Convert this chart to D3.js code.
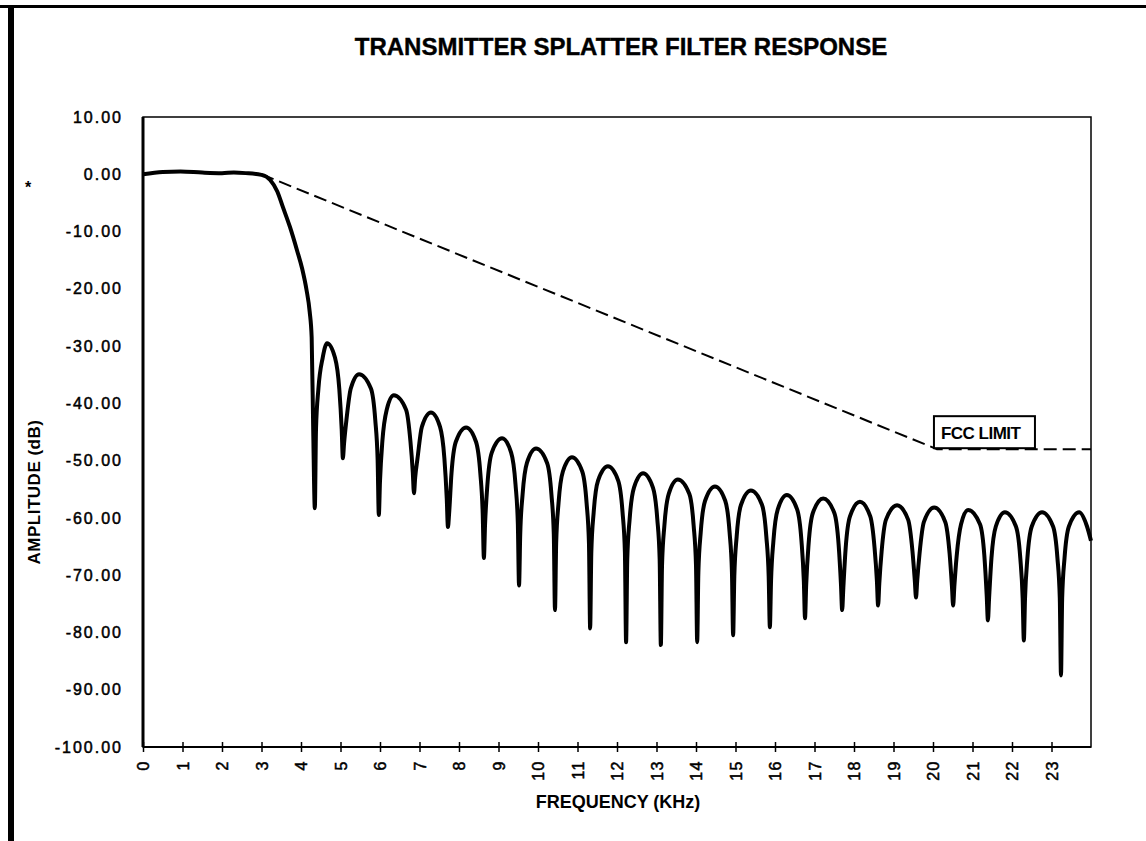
<!DOCTYPE html>
<html>
<head>
<meta charset="utf-8">
<script src="https://cdn.jsdelivr.net/npm/d3@7"></script>
<style>
  body { margin: 0; background: #fff; }
  svg { display: block; font-family: "Liberation Sans", Arial, sans-serif; }
</style>
</head>
<body>
<div id="chart"></div>
<script>
// values
const TITLE = "TRANSMITTER SPLATTER FILTER RESPONSE"
const X_TICKS = d3.range(0, 24)
const Y_TICKS = [10, 0, -10, -20, -30, -40, -50, -60, -70, -80, -90, -100]

// filter response, frequency in kHz / amplitude in dB
const FREQ = [
  0, 0.5, 0.95, 1.5, 2.0, 2.3, 2.6, 3.0, 3.22, 3.4, 3.54, 3.72, 3.9, 4.03, 4.14, 4.22, 4.27, 4.31, 4.35,
  4.38, 4.44, 4.55, 4.66, 4.86, 4.97, 5.03, 5.06,
  5.09, 5.15, 5.26, 5.47, 5.77, 5.88, 5.94, 5.97,
  6.00, 6.06, 6.17, 6.35, 6.66, 6.77, 6.83, 6.86,
  6.89, 6.95, 7.06, 7.29, 7.52, 7.63, 7.69, 7.72,
  7.75, 7.81, 7.92, 8.18, 8.43, 8.54, 8.60, 8.63,
  8.66, 8.72, 8.83, 9.09, 9.32, 9.43, 9.49, 9.52,
  9.55, 9.61, 9.72, 9.95, 10.23, 10.34, 10.40, 10.43,
  10.46, 10.52, 10.63, 10.86, 11.12, 11.23, 11.29, 11.32,
  11.35, 11.41, 11.52, 11.77, 12.03, 12.14, 12.20, 12.23,
  12.26, 12.32, 12.43, 12.66, 12.91, 13.02, 13.08, 13.11,
  13.14, 13.20, 13.31, 13.54, 13.83, 13.94, 14.00, 14.03,
  14.06, 14.12, 14.23, 14.48, 14.74, 14.85, 14.91, 14.94,
  14.97, 15.03, 15.14, 15.39, 15.67, 15.78, 15.84, 15.87,
  15.90, 15.96, 16.07, 16.30, 16.56, 16.67, 16.73, 16.76,
  16.79, 16.85, 16.96, 17.22, 17.50, 17.61, 17.67, 17.70,
  17.73, 17.79, 17.90, 18.15, 18.41, 18.52, 18.58, 18.61,
  18.64, 18.70, 18.81, 19.09, 19.37, 19.48, 19.54, 19.57,
  19.60, 19.66, 19.77, 20.03, 20.31, 20.42, 20.48, 20.51,
  20.54, 20.60, 20.71, 20.89, 21.19, 21.30, 21.36, 21.39,
  21.42, 21.48, 21.59, 21.82, 22.10, 22.21, 22.27, 22.30,
  22.33, 22.39, 22.50, 22.76, 23.04, 23.15, 23.21, 23.24,
  23.27, 23.33, 23.44, 23.70, 23.90, 24.0
]
const AMPL = [
  0, 0.4, 0.5, 0.3, 0.2, 0.3, 0.2, -0.1, -1.0, -3.0, -5.7, -9.2, -13.3, -16.5, -20.2, -24, -28.5, -45, -58.3,
  -44.5, -37.5, -32, -29.5, -32, -37.5, -44.5, -49.6,
  -47, -42.9, -37.4, -34.9, -37.4, -42.9, -49.9, -59.5,
  -53.6, -46.6, -41.1, -38.6, -41.1, -46.6, -52, -55.7,
  -53, -49.6, -44.1, -41.6, -44.1, -49.6, -56.6, -61.6,
  -59.2, -52.2, -46.7, -44.2, -46.7, -52.2, -59.2, -67,
  -61.1, -54.1, -48.6, -46.1, -48.6, -54.1, -61.1, -71.8,
  -62.9, -55.9, -50.4, -47.9, -50.4, -55.9, -62.9, -76.1,
  -64.4, -57.4, -51.9, -49.4, -51.9, -57.4, -64.4, -79.3,
  -66, -59, -53.5, -51, -53.5, -59, -66, -81.7,
  -67.2, -60.2, -54.7, -52.2, -54.7, -60.2, -67.2, -82.2,
  -68.3, -61.3, -55.8, -53.3, -55.8, -61.3, -68.3, -81.7,
  -69.5, -62.5, -57, -54.5, -57, -62.5, -69.5, -80.5,
  -70.2, -63.2, -57.7, -55.2, -57.7, -63.2, -70.2, -79.1,
  -71, -64, -58.5, -56, -58.5, -64, -71, -77.5,
  -71.6, -64.6, -59.1, -56.6, -59.1, -64.6, -71.6, -76.1,
  -72.2, -65.2, -59.7, -57.2, -59.7, -65.2, -71, -75.3,
  -71.5, -65.8, -60.3, -57.8, -60.3, -65.8, -71, -73.9,
  -71, -66.2, -60.7, -58.2, -60.7, -66.2, -72, -75.3,
  -72, -66.6, -61.1, -58.6, -61.1, -66.6, -73.6, -77.9,
  -74, -67, -61.5, -59, -61.5, -67, -74, -81.4,
  -74, -67, -61.5, -59, -61.5, -67, -74, -87.5,
  -74, -67, -61.5, -59, -61.5, -64
]

// FCC limit mask
const FCC_FREQ = [3.0, 20.1, 24.0]
const FCC_AMPL = [0, -48, -48]
const FCC_LABEL = "FCC LIMIT"

const MARGIN = {TOP: 117, BOTTOM: 94, LEFT: 143, RIGHT: 55}
const WIDTH = 1146 - MARGIN.LEFT - MARGIN.RIGHT
const HEIGHT = 841 - MARGIN.TOP - MARGIN.BOTTOM

const root = d3.select("#chart")
  .append("svg")
    .attr("width", 1146)
    .attr("height", 841)

// scanned page edges
root.append("rect").attr("x", 0).attr("y", 5).attr("width", 1146).attr("height", 3).attr("fill", "#000")
root.append("rect").attr("x", 8).attr("y", 5).attr("width", 6).attr("height", 836).attr("fill", "#000")
root.append("text").attr("x", 25).attr("y", 193).attr("font-size", 16).attr("font-weight", "bold").text("*")

root.append("text")
  .attr("x", 621)
  .attr("y", 55)
  .attr("text-anchor", "middle")
  .attr("font-size", 24)
  .attr("font-weight", "bold")
  .attr("stroke", "#000")
  .attr("stroke-width", 0.4)
  .text(TITLE)

const svg = root.append("g")
  .attr("transform", `translate(${MARGIN.LEFT}, ${MARGIN.TOP})`)

const x = d3.scaleLinear().domain([0, 24]).range([0, WIDTH])
const y = d3.scaleLinear().domain([-100, 10]).range([HEIGHT, 0])

// plot frame
svg.append("rect")
  .attr("width", WIDTH)
  .attr("height", HEIGHT)
  .attr("fill", "none")
  .attr("stroke", "#000")
  .attr("stroke-width", 1.5)
svg.append("line").attr("x1", 0).attr("x2", 0).attr("y1", 0).attr("y2", HEIGHT)
  .attr("stroke", "#000").attr("stroke-width", 3)
svg.append("line").attr("x1", 0).attr("x2", WIDTH).attr("y1", HEIGHT).attr("y2", HEIGHT)
  .attr("stroke", "#000").attr("stroke-width", 2)

// x axis, labels turned sideways
const xAxis = svg.append("g")
  .attr("transform", `translate(0, ${HEIGHT})`)
  .call(d3.axisBottom(x).tickValues(X_TICKS).tickSize(5).tickSizeOuter(0).tickFormat(d3.format("d")))
xAxis.select(".domain").remove()
xAxis.selectAll(".tick line").attr("y1", -5).attr("stroke-width", 1.5)
xAxis.selectAll(".tick text")
  .attr("transform", "rotate(-90)")
  .attr("text-anchor", "end")
  .attr("x", -13)
  .attr("y", 0)
  .attr("dy", "0.36em")
  .attr("font-size", 16)
  .attr("letter-spacing", 1.5)
  .attr("fill", "#000")
  .attr("stroke", "#000")
  .attr("stroke-width", 0.5)

const yAxis = svg.append("g")
  .call(d3.axisLeft(y).tickValues(Y_TICKS).tickSize(0).tickPadding(20).tickFormat(d => d.toFixed(2)))
yAxis.select(".domain").remove()
yAxis.selectAll(".tick text")
  .attr("font-size", 16)
  .attr("letter-spacing", 2)
  .attr("fill", "#000")
  .attr("stroke", "#000")
  .attr("stroke-width", 0.5)

root.append("text")
  .attr("x", 618)
  .attr("y", 808)
  .attr("text-anchor", "middle")
  .attr("font-size", 18)
  .attr("font-weight", "bold")
  .text("FREQUENCY (KHz)")

root.append("text")
  .attr("transform", "translate(40, 492) rotate(-90)")
  .attr("text-anchor", "middle")
  .attr("font-size", 17)
  .attr("font-weight", "bold")
  .attr("letter-spacing", 0.5)
  .text("AMPLITUDE (dB)")

const plot = svg.append("g")

// FCC limit, dashed
plot.append("path")
  .datum(d3.zip(FCC_FREQ, FCC_AMPL))
  .attr("fill", "none")
  .attr("stroke", "#000")
  .attr("stroke-width", 2)
  .attr("stroke-dasharray", "13,6")
  .attr("d", d3.line().x(d => x(d[0])).y(d => y(d[1])))

const lx = x(FCC_FREQ[1])
const ly = y(FCC_AMPL[1])
plot.append("rect")
  .attr("x", lx - 3)
  .attr("y", ly - 33)
  .attr("width", 101)
  .attr("height", 32)
  .attr("fill", "#fff")
  .attr("stroke", "#000")
  .attr("stroke-width", 2)
plot.append("text")
  .attr("x", lx + 4)
  .attr("y", ly - 10)
  .attr("font-size", 17)
  .attr("font-weight", "bold")
  .attr("letter-spacing", -0.5)
  .text(FCC_LABEL)

// filter response
plot.append("path")
  .datum(d3.zip(FREQ, AMPL))
  .attr("fill", "none")
  .attr("stroke", "#000")
  .attr("stroke-width", 4)
  .attr("stroke-linejoin", "round")
  .attr("d", d3.line().curve(d3.curveMonotoneX).x(d => x(d[0])).y(d => y(d[1])))
</script>
</body>
</html>
